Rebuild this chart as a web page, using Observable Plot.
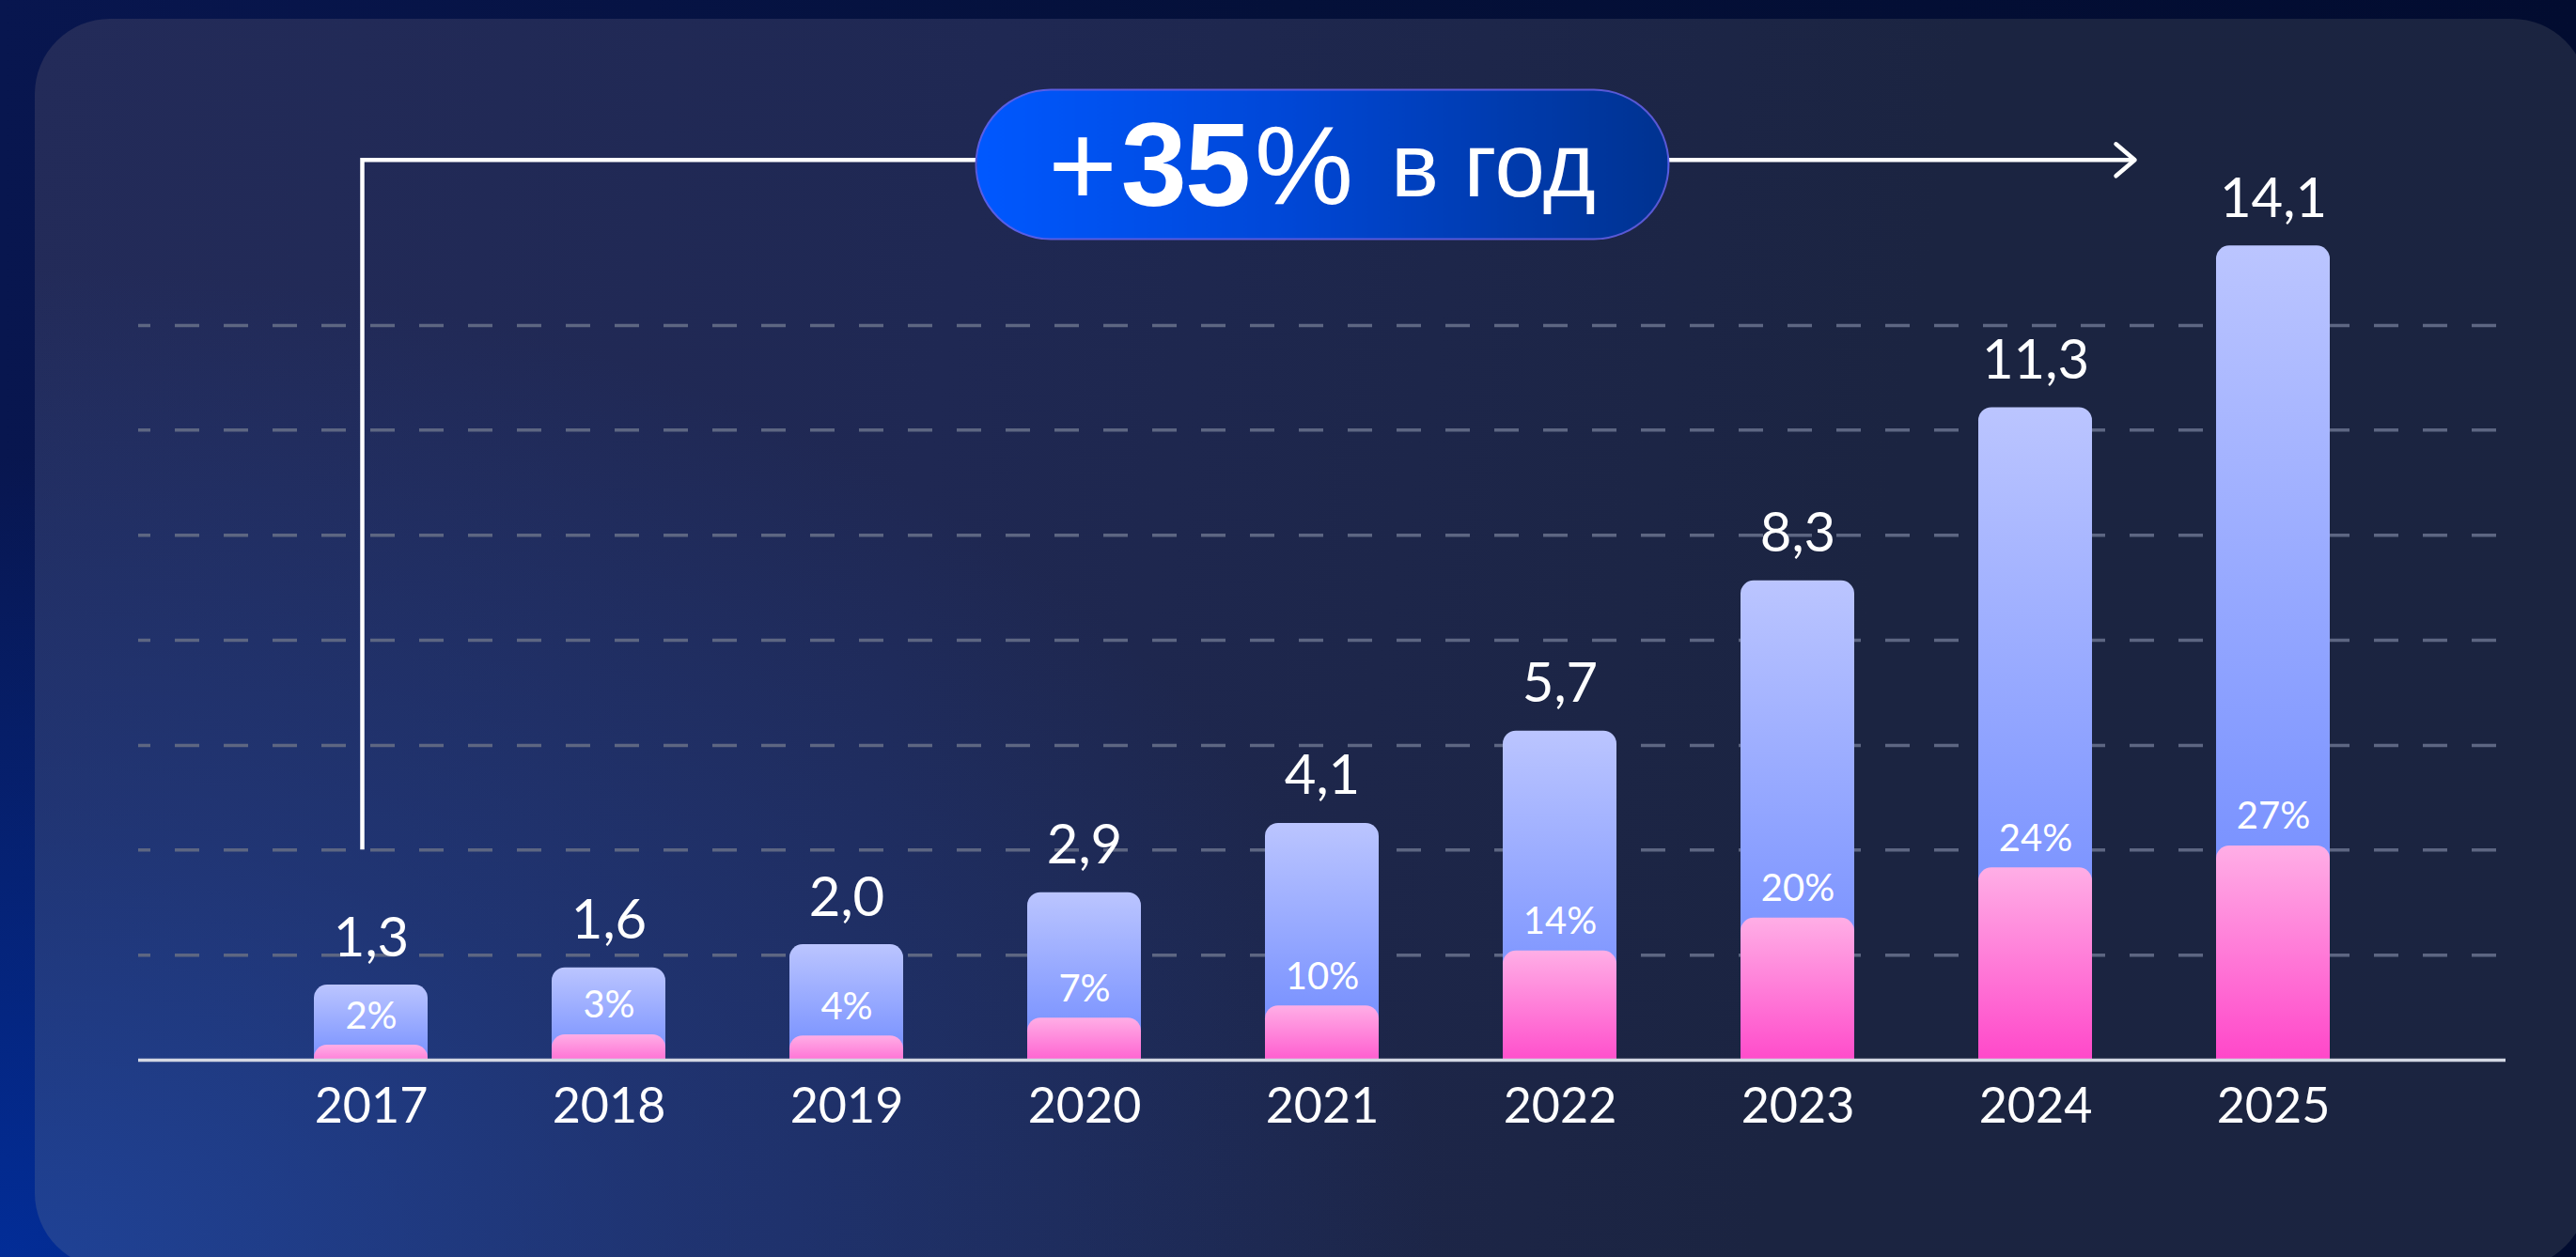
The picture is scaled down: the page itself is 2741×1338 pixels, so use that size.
<!DOCTYPE html>
<html lang="ru">
<head>
<meta charset="utf-8">
<script src="https://cdn.jsdelivr.net/npm/d3@7"></script>
<script src="https://cdn.jsdelivr.net/npm/@observablehq/plot@0.6"></script>
<style>
  html, body { margin: 0; padding: 0; }
  body {
    width: 2741px; height: 1338px; overflow: hidden; position: relative;
    background:
      radial-gradient(ellipse 55% 85% at 0% 100%, rgba(2,46,155,0.95) 0%, rgba(2,46,155,0) 75%),
      linear-gradient(90deg, #08164f 0%, #041039 50%, #020c30 100%);
    font-family: Lato, "Noto Sans", sans-serif;
  }
  #panel {
    position: absolute; left: 37px; top: 20px; width: 2716px; height: 1330px;
    border-radius: 80px;
    background:
      radial-gradient(ellipse 55% 80% at 0% 100%, rgba(31,66,150,1) 0%, rgba(31,66,150,0.45) 45%, rgba(31,66,150,0) 100%),
      linear-gradient(100deg, #232b59 0%, #1f2853 35%, #1b2441 70%, #1b2440 100%);
  }
  #chart { position: absolute; left: 0; top: 0; }
  #pill {
    position: absolute; box-sizing: border-box;
    width: 739px; height: 161px; border-radius: 80.5px;
    background: linear-gradient(90deg, #0058ff 0%, #0047d6 45%, #003290 100%);
    border: 2px solid rgba(105, 95, 225, 0.85);
    display: flex; align-items: center; justify-content: center;
    color: #fff; font-family: "Liberation Sans", Arial, sans-serif;
    transform: translate(-50%, -50%);
    white-space: nowrap;
  }
  #pill span { line-height: 1; }
  #pill .big { font-size: 126px; font-weight: 400; }
  #pill .pct { font-size: 118px; font-weight: 400; }
  #pill .num { font-size: 126px; font-weight: 700; letter-spacing: -2px; margin-left: 4px; margin-right: 6px; }
  #pill .small { font-size: 96px; font-weight: 400; margin-left: 40px; }
</style>
</head>
<body>
<div id="panel"></div>
<div id="chart"></div>
<div id="pill"></div>
<script>
// ---- data ----
const years = ["2017", "2018", "2019", "2020", "2021", "2022", "2023", "2024", "2025"];
const totals = [1.3, 1.6, 2.0, 2.9, 4.1, 5.7, 8.3, 11.3, 14.1];
const shares = [2, 3, 4, 7, 10, 14, 20, 24, 27];          // % labels
const shareHeights = [0.26, 0.44, 0.42, 0.73, 0.94, 1.89, 2.46, 3.33, 3.71]; // pink segment heights
const gridValues = [1.82, 3.64, 5.45, 7.27, 9.09, 10.91, 12.72];
const growthSign = "+";
const growthValue = "35";
const growthUnit = "%";
const growthText = "в год";
const arrowFrom = "2017";
const pillAt = "2021";
const arrowTo = "2024";
const arrowLevel = 15.58;
const pillLevel = 15.5;

const data = years.map((year, i) => ({
  year, total: totals[i], share: shares[i], shareH: shareHeights[i]
}));
const fmt = v => v.toFixed(1).replace(".", ",");

const FONT = "Lato, 'Noto Sans', sans-serif";

const plot = Plot.plot({
  width: 2741,
  height: 1338,
  marginLeft: 147,
  marginRight: 75,
  marginTop: 40,
  marginBottom: 210,
  style: { background: "transparent", color: "#ffffff", fontFamily: FONT, overflow: "visible" },
  x: { domain: years, paddingInner: 0.523, paddingOuter: 0.728, align: 0.5 },
  y: { domain: [0, 17.7], axis: null },
  marks: [
    Plot.ruleY(gridValues, { stroke: "#5d6682", strokeWidth: 3.5, strokeDasharray: "26 26", strokeDashoffset: 13 }),
    Plot.barY(data, { x: "year", y1: -0.4, y2: "total", rx: 14, fill: "url(#gradBlue)", clip: true }),
    Plot.barY(data, { x: "year", y1: -0.4, y2: "shareH", rx: 14, fill: "url(#gradPink)", clip: true }),
    Plot.ruleY([0], { stroke: "#d3d7e3", strokeWidth: 3.5 }),
    Plot.text(data, { x: "year", y: "total", text: d => fmt(d.total), dy: -31, lineAnchor: "bottom",
      fontSize: 58, fill: "#ffffff", fontFamily: FONT, letterSpacing: -1.5 }),
    Plot.text(data, { x: "year", y: "shareH", text: d => d.share + "%", dy: -18, lineAnchor: "bottom",
      fontSize: 40, fill: "#ffffff", fontFamily: FONT, letterSpacing: -0.5 }),
    Plot.axisX({ tickSize: 0, tickPadding: 30, fontSize: 52, label: null, fill: "#ffffff",
      fontFamily: FONT, letterSpacing: -1.5 })
  ]
});

document.getElementById("chart").appendChild(plot);

// gradients
const svg = d3.select(plot);
const defs = svg.insert("defs", ":first-child");
const gb = defs.append("linearGradient").attr("id", "gradBlue").attr("x1", 0).attr("y1", 0).attr("x2", 0).attr("y2", 1);
gb.append("stop").attr("offset", "0%").attr("stop-color", "#bbc5ff");
gb.append("stop").attr("offset", "100%").attr("stop-color", "#6280ff");
const gp = defs.append("linearGradient").attr("id", "gradPink").attr("x1", 0).attr("y1", 0).attr("x2", 0).attr("y2", 1);
gp.append("stop").attr("offset", "0%").attr("stop-color", "#ffaee6");
gp.append("stop").attr("offset", "100%").attr("stop-color", "#ff3cc6");

// scales from the plot
const sx = plot.scale("x");
const sy = plot.scale("y");
const xBand = d3.scaleBand().domain(sx.domain).range(sx.range)
  .paddingInner(sx.paddingInner ?? 0.523).paddingOuter(sx.paddingOuter ?? 0.728).align(sx.align ?? 0.5);
const xc = k => (sx.apply ? sx.apply(k) : xBand(k)) + (sx.bandwidth ?? xBand.bandwidth()) / 2;
const yv = v => (sy.apply ? sy.apply(v) : d3.scaleLinear().domain(sy.domain).range(sy.range)(v));

// growth arrow
const x0 = xc(arrowFrom) - 9;
const yTop = yv(arrowLevel);
const yBottom = yv(gridValues[1]);
const xEnd = xc(arrowTo) + 106;
svg.append("path")
  .attr("d", `M${x0},${yBottom}V${yTop}H${xEnd}`)
  .attr("fill", "none").attr("stroke", "#ffffff").attr("stroke-width", 4.5)
  .attr("stroke-linejoin", "miter");
svg.append("path")
  .attr("d", `M${xEnd - 20},${yTop - 17}L${xEnd},${yTop}L${xEnd - 20},${yTop + 17}`)
  .attr("fill", "none").attr("stroke", "#ffffff").attr("stroke-width", 4.5)
  .attr("stroke-linecap", "round").attr("stroke-linejoin", "round");

// pill
const pill = document.getElementById("pill");
pill.style.left = xc(pillAt) + "px";
pill.style.top = yv(pillLevel) + "px";
pill.innerHTML = `<span class="big">${growthSign}</span><span class="num">${growthValue}</span><span class="pct">${growthUnit}</span><span class="small">${growthText}</span>`;
</script>
</body>
</html>
